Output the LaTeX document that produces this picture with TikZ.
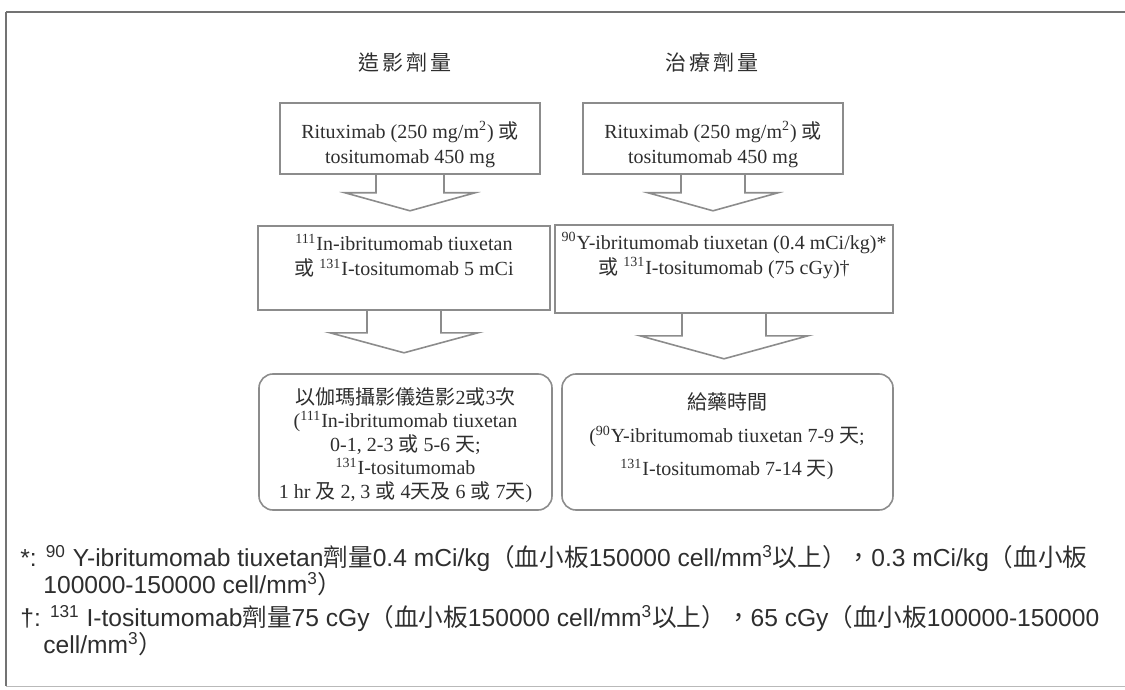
\documentclass[tikz,border=0pt]{standalone}
\usepackage{fontspec}
\setmainfont{Liberation Serif}
\setsansfont{Liberation Sans}
\newfontfamily\cjk{Noto Sans CJK TC}
\usetikzlibrary{calc,fit}
\newcommand\zh[1]{{\cjk #1}}
\definecolor{lnc}{gray}{0.55}
\definecolor{txc}{gray}{0.18}
\definecolor{frc}{gray}{0.45}
\tikzset{
  sqbox/.style={draw=lnc, line width=0.8pt, inner sep=0pt, fit={#1}},
  rdbox/.style={draw=lnc, line width=0.8pt, rounded corners=7pt, inner sep=0pt, fit={#1}},
  boxtxt/.style={text=txc, align=center, inner sep=0pt, font=\fontsize{10}{12.5}\selectfont},
  ttl/.style={text=txc, inner sep=0pt, font=\fontsize{10.5}{12}\selectfont\cjk},
  fnote/.style={text=txc, inner sep=0pt, anchor=base west, font=\fontsize{12.3}{14}\selectfont\sffamily},
  blk/.style={draw=lnc, line width=0.8pt, line join=miter}
}
\begin{document}
\begin{tikzpicture}[x=0.5pt,y=-0.5pt]
\useasboundingbox (0,0) rectangle (1125,690);
% frame
\draw[frc, line width=1.1pt] (6,12) -- (1125,12);
\draw[frc, line width=1pt] (6,12) -- (6,686);
\draw[gray!55, line width=0.5pt] (6,686) -- (1125,686);
% titles
\node[ttl] (t1) at (405,62) {造\hspace{1.5pt}影\hspace{1.5pt}劑\hspace{1.5pt}量};
\node[ttl] (t2) at (712,62) {治\hspace{1.5pt}療\hspace{1.5pt}劑\hspace{1.5pt}量};
% boxes
\node[sqbox={(280,103) (540,174)}] (b1) {};
\node[sqbox={(583,103) (843,174)}] (b2) {};
\node[sqbox={(258,226) (550,310)}] (b3) {};
\node[sqbox={(555,225) (893,313)}] (b4) {};
\node[rdbox={(259,374) (552,510)}] (b5) {};
\node[rdbox={(562,374) (893,510)}] (b6) {};
% box texts
\node[boxtxt] (x1) at (410,144.5) {Rituximab (250 mg/m\textsuperscript{2}) \zh{或}\\tositumomab 450 mg};
\node[boxtxt] (x2) at (713,144.5) {Rituximab (250 mg/m\textsuperscript{2}) \zh{或}\\tositumomab 450 mg};
\node[boxtxt] (x3) at (404,255.5) {\textsuperscript{111}In-ibritumomab tiuxetan\\\zh{或} \textsuperscript{131}I-tositumomab 5 mCi};
\node[boxtxt] (x4) at (724,255.5) {\textsuperscript{90}Y-ibritumomab tiuxetan (0.4 mCi/kg)*\\\zh{或} \textsuperscript{131}I-tositumomab (75 cGy)\dag};
\node[boxtxt, font=\fontsize{10}{11.7}\selectfont] (x5) at (405.5,445) {\zh{以伽瑪攝影儀造影}2\zh{或}3\zh{次}\\(\textsuperscript{111}In-ibritumomab tiuxetan\\0-1, 2-3 \zh{或} 5-6 \zh{天}; \\\textsuperscript{131}I-tositumomab\\1 hr \zh{及} 2, 3 \zh{或} 4\zh{天及} 6 \zh{或} 7\zh{天})};
\node[boxtxt, font=\fontsize{10}{16.5}\selectfont] (x6) at (727,436) {\zh{給藥時間}\\(\textsuperscript{90}Y-ibritumomab tiuxetan 7-9 \zh{天};\\\textsuperscript{131}I-tositumomab 7-14 \zh{天})};
% block arrows
\draw[blk] ($(b1.south)+(-34,0)$) -- ($(b1.south)+(-34,18)$) -- ($(b1.south)+(-65,18)$) -- ($(b1.south)+(0,36)$) coordinate (a1) -- ($(b1.south)+(65,18)$) -- ($(b1.south)+(34,18)$) -- ($(b1.south)+(34,0)$);
\draw[blk] ($(b2.south)+(-32,0)$) -- ($(b2.south)+(-32,18)$) -- ($(b2.south)+(-65,18)$) -- ($(b2.south)+(0,36)$) coordinate (a2) -- ($(b2.south)+(65,18)$) -- ($(b2.south)+(32,18)$) -- ($(b2.south)+(32,0)$);
\draw[blk] ($(b3.south)+(-37,0)$) -- ($(b3.south)+(-37,22)$) -- ($(b3.south)+(-74,22)$) -- ($(b3.south)+(0,42)$) coordinate (a3) -- ($(b3.south)+(74,22)$) -- ($(b3.south)+(37,22)$) -- ($(b3.south)+(37,0)$);
\draw[blk] ($(b4.south)+(-42,0)$) -- ($(b4.south)+(-42,22)$) -- ($(b4.south)+(-84,22)$) -- ($(b4.south)+(0,45)$) coordinate (a4) -- ($(b4.south)+(84,22)$) -- ($(b4.south)+(42,22)$) -- ($(b4.south)+(42,0)$);
% footnotes
\node[fnote] (f1) at (20,566) {*: \textsuperscript{90} Y-ibritumomab tiuxetan\zh{劑量}0.4 mCi/kg\zh{（血小板}150000 cell/mm\textsuperscript{3}\zh{以上），}0.3 mCi/kg\zh{（血小板}};
\node[fnote] (f2) at (43,593) {100000-150000 cell/mm\textsuperscript{3}\zh{）}};
\node[fnote] (f3) at (20,626) {\dag: \textsuperscript{131} I-tositumomab\zh{劑量}75 cGy\zh{（血小板}150000 cell/mm\textsuperscript{3}\zh{以上），}65 cGy\zh{（血小板}100000-150000};
\node[fnote] (f4) at (43,653) {cell/mm\textsuperscript{3}\zh{）}};
\end{tikzpicture}
\end{document}
